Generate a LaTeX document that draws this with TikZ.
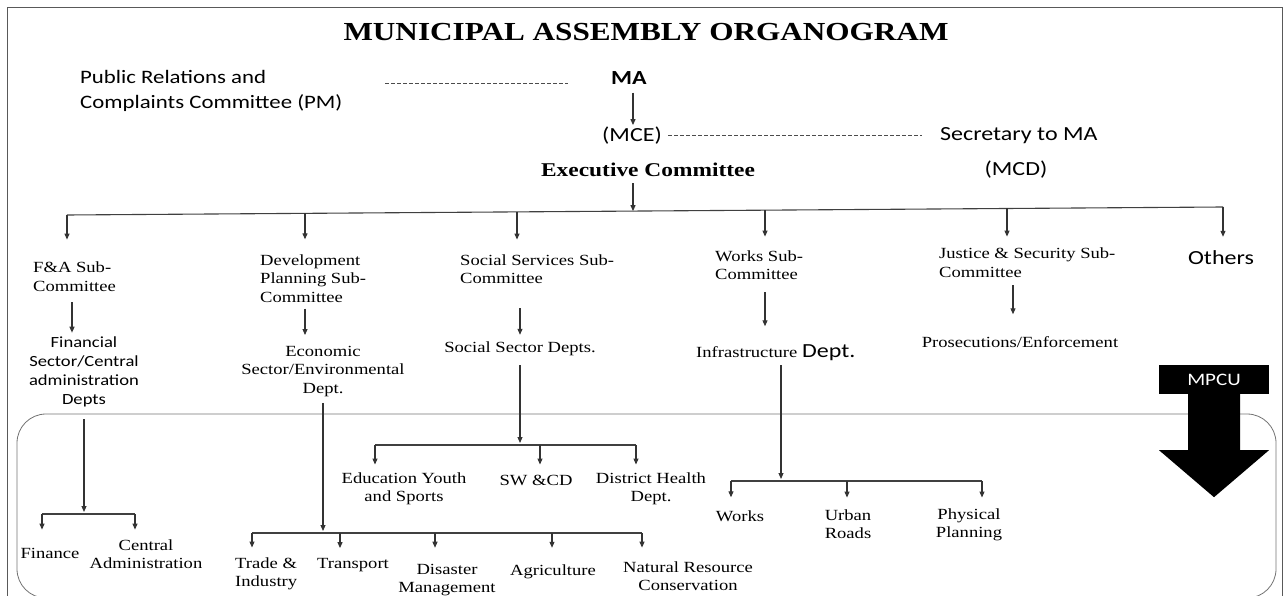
\documentclass[tikz,border=0pt]{standalone}
\usepackage{fontspec}
\setmainfont{Liberation Serif}[FakeStretch=1.2]
\newfontfamily\cbr{Carlito}[FakeStretch=1.2]
\usetikzlibrary{arrows.meta}

\tikzset{
  arr/.style={-{Triangle[length=6pt,width=5pt]},line width=1.1pt,draw=black!80},
  ln/.style={line width=1.1pt,draw=black!75},
  dsh/.style={line width=1pt,draw=black!70,dash pattern=on 4pt off 2pt},
  tms/.style={inner sep=0pt,font=\fontsize{15.5}{18.5}\selectfont},
  cal/.style={inner sep=0pt,font=\cbr\fontsize{20}{25}\selectfont},
}

\begin{document}
\begin{tikzpicture}[x=1pt,y=-1pt]
\clip (0,0) rectangle (1288,596);
\draw [line width=1pt,black!65] (7,8) rectangle (1282,606);
\draw [line width=0.8pt,black!55,rounded corners=29pt] (17,414) rectangle (1276,598);

% head of the chart
\node [inner sep=0pt,font=\bfseries\fontsize{26}{30}\selectfont] (title) at (646,32) {MUNICIPAL ASSEMBLY ORGANOGRAM};
\node [cal,font=\cbr\fontsize{19}{25}\selectfont,anchor=west,align=left] (prc) at (80,90.5) {Public Relations and\\Complaints Committee (PM)};
\node [cal,font=\cbr\bfseries\fontsize{20}{24}\selectfont] (ma) at (629,78) {MA};
\node [cal] (mce) at (632,136) {(MCE)};
\node [cal,anchor=west] (sec) at (940,136) {Secretary to MA};
\node [inner sep=0pt,font=\bfseries\fontsize{19.5}{22}\selectfont] (exec) at (648,170) {Executive Committee};
\node [cal] (mcd) at (1016,170) {(MCD)};

\coordinate (d1) at (385,84);
\coordinate (d2) at (568,84);
\coordinate (cma) at (633,0);
\draw [dsh] (d1) -- (d2);
\draw [dsh] ([xshift=6pt]mce.east) -- ([xshift=-18pt]sec.west);
\draw [arr,shorten <=8pt,shorten >=2pt] (cma |- ma.south) -- (cma |- mce.north);

% sub-committees
\coordinate (b1) at (67,215);
\coordinate (b2) at (305,213.4);
\coordinate (b3) at (517,211.9);
\coordinate (bx) at (633,211.1);
\coordinate (b4) at (765,210.2);
\coordinate (b5) at (1007,208.5);
\coordinate (b6) at (1223,207);
\draw [ln] (b1) -- (b6);
\draw [arr,shorten <=6pt] (bx |- exec.south) -- (bx);

\node [tms,anchor=west,align=left] (fa) at (33,276.5) {F\&A Sub-\\Committee};
\node [tms,anchor=west,align=left] (dev) at (260,278.5) {Development\\Planning Sub-\\Committee};
\node [tms,anchor=west,align=left] (soc) at (460,269) {Social Services Sub-\\Committee};
\node [tms,anchor=west,align=left] (works) at (715,265) {Works Sub-\\Committee};
\node [tms,anchor=west,align=left] (just) at (939,262.5) {Justice \& Security Sub-\\Committee};
\node [cal] (others) at (1221,258) {Others};

\draw [arr,shorten >=22pt] (b1) -- (b1 |- fa.north);
\draw [arr,shorten >=15pt] (b2) -- (b2 |- dev.north);
\draw [arr,shorten >=14.5pt] (b3) -- (b3 |- soc.north);
\draw [arr,shorten >=13.5pt] (b4) -- (b4 |- works.north);
\draw [arr,shorten >=11pt] (b5) -- (b5 |- just.north);
\draw [arr,shorten >=14pt] (b6) -- (b6 |- others.north);

% departments
\node [inner sep=0pt,font=\cbr\fontsize{15.5}{19}\selectfont,align=center] (fin) at (84,372) {Financial\\Sector/Central\\administration\\Depts};
\node [tms,align=center] (econ) at (323,371.5) {Economic\\Sector/Environmental\\Dept.};
\node [tms] (socdept) at (520,349) {Social Sector Depts.};
\node [tms,anchor=west] (infra) at (696,353) {Infrastructure {\cbr\fontsize{20}{24}\selectfont Dept.}};
\node [tms] (pros) at (1020,342) {Prosecutions/Enforcement};

\coordinate (c1) at (72,0);
\coordinate (c2) at (305,0);
\coordinate (c3) at (520,0);
\coordinate (c4) at (765,0);
\coordinate (c5) at (1013,0);
\draw [arr,shorten <=11pt,shorten >=4pt] (c1 |- fa.south) -- (c1 |- fin.north);
\draw [arr,shorten <=6pt,shorten >=11pt] (c2 |- dev.south) -- (c2 |- econ.north);
\draw [arr,shorten <=24.5pt,shorten >=7pt] (c3 |- soc.south) -- (c3 |- socdept.north);
\draw [arr,shorten <=12.5pt,shorten >=18.5pt] (c4 |- works.south) -- (c4 |- infra.north);
\draw [arr,shorten <=8pt,shorten >=22pt] (c5 |- just.south) -- (c5 |- pros.north);

% MPCU
\node [fill=black,text=white,font=\cbr\fontsize{17.5}{20}\selectfont,minimum width=110pt,minimum height=29pt,inner sep=0pt] (mpcu) at (1214,379.5) {MPCU};
\fill ([xshift=-26pt]mpcu.south) -- ++(0,56) -- ++(-29,0) -- ++(55,47) -- ++(55,-47) -- ++(-29,0) -- ++(0,-56) -- cycle;

% finance units
\coordinate (fb) at (84,514);
\coordinate (f1) at (42,514);
\coordinate (f2) at (135,514);
\draw [arr,shorten <=12pt,shorten >=2pt] (fin.south) -- (fb);
\draw [ln] (f1) -- (f2);
\node [tms] (finance) at (50,553) {Finance};
\node [tms,align=center] (central) at (146,554) {Central\\Administration};
\draw [arr,shorten >=18pt] (f1) -- (f1 |- finance.north);
\draw [arr,shorten >=9.5pt] (f2) -- (f2 |- central.north);

% economic units
\coordinate (eb) at (323,533);
\coordinate (e1) at (252,533);
\coordinate (e2) at (340,533);
\coordinate (e3) at (435,533);
\coordinate (e4) at (552,533);
\coordinate (e5) at (642,533);
\draw [arr,shorten <=6pt,shorten >=2pt] (econ.south) -- (eb);
\draw [ln] (e1) -- (e5);
\node [tms,anchor=west,align=left] (trade) at (235,574) {Trade \&\\Industry};
\node [tms,anchor=west] (transport) at (317,565) {Transport};
\node [tms,align=center] (disaster) at (447,580) {Disaster\\Management};
\node [tms] (agri) at (553,572) {Agriculture};
\node [tms,align=center] (natres) at (688,576) {Natural Resource\\Conservation};
\draw [arr,shorten >=10pt] (e1) -- (e1 |- trade.north);
\draw [arr,shorten >=10pt] (e2) -- (e2 |- transport.north);
\draw [arr,shorten >=16pt] (e3) -- (e3 |- disaster.north);
\draw [arr,shorten >=17pt] (e4) -- (e4 |- agri.north);
\draw [arr,shorten >=13.5pt] (e5) -- (e5 |- natres.north);

% social units
\coordinate (sb) at (520,445);
\coordinate (s1) at (375,445);
\coordinate (s2) at (540,445);
\coordinate (s3) at (636,445);
\draw [arr,shorten <=9pt,shorten >=2pt] (socdept.south) -- (sb);
\draw [ln] (s1) -- (s3);
\node [tms,align=center] (edu) at (404,489) {Education Youth\\and Sports};
\node [tms] (swcd) at (536,480) {SW \&CD};
\node [tms,align=center] (health) at (651,489) {District Health\\Dept.};
\draw [arr,shorten >=8pt] (s1) -- (s1 |- edu.north);
\draw [arr,shorten >=10pt] (s2) -- (s2 |- swcd.north);
\draw [arr,shorten >=8pt] (s3) -- (s3 |- health.north);

% infrastructure units
\coordinate (ib) at (781,481);
\coordinate (w1) at (731,481);
\coordinate (w2) at (847,481);
\coordinate (w3) at (982,481);
\draw [arr,shorten <=4pt,shorten >=2pt] (ib |- infra.south) -- (ib);
\draw [ln] (w1) -- (w3);
\node [tms] (wworks) at (740,516) {Works};
\node [tms,align=center] (roads) at (848,524) {Urban\\Roads};
\node [tms,align=center] (physical) at (969,525) {Physical\\Planning};
\draw [arr,shorten >=13pt] (w1) -- (w1 |- wworks.north);
\draw [arr,shorten >=11.5pt] (w2) -- (w2 |- roads.north);
\draw [arr,shorten >=11pt] (w3) -- (w3 |- physical.north);
\end{tikzpicture}
\end{document}
